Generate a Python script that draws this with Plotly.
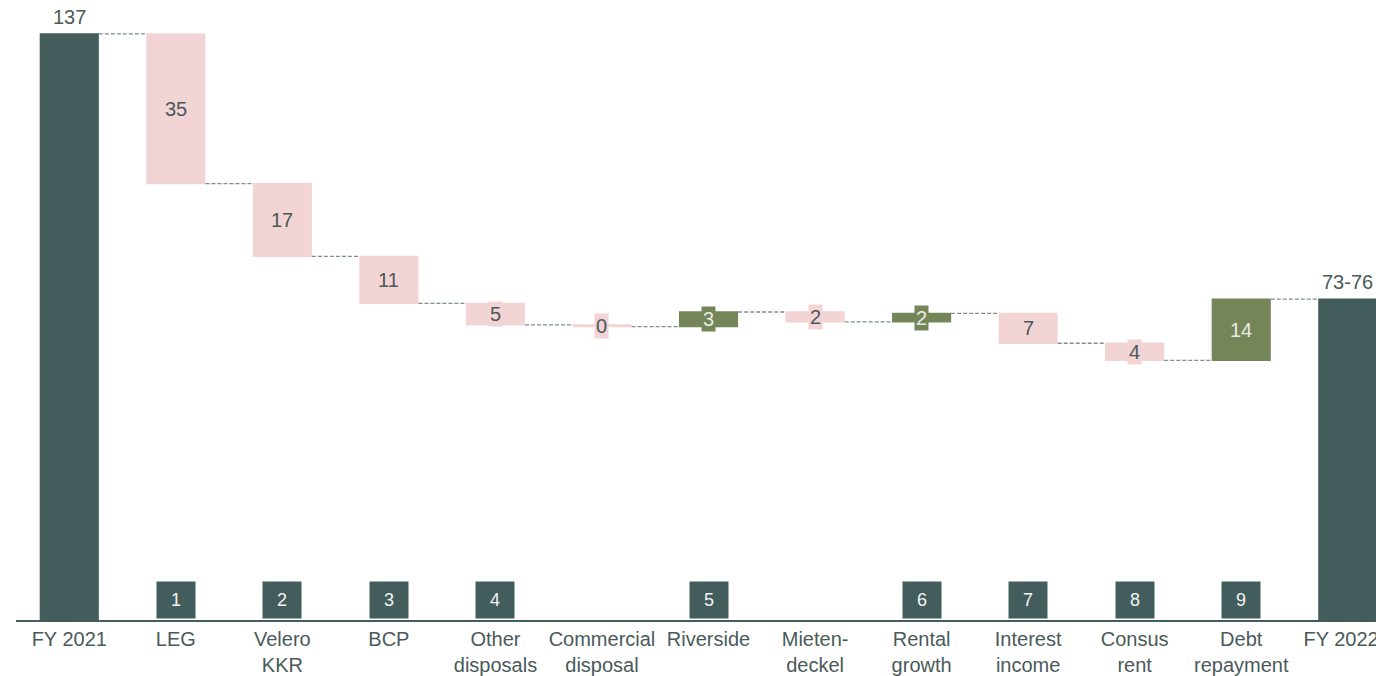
import plotly.graph_objects as go

categories = ["FY 2021", "LEG", "Velero<br>KKR", "BCP", "Other<br>disposals", "Commercial<br>disposal",
              "Riverside", "Mieten-<br>deckel", "Rental<br>growth", "Interest<br>income", "Consus<br>rent",
              "Debt<br>repayment", "FY 2022E"]
values = [137, -35, -17, -11, -5, -0.4, 3.4, -2.3, 2.0, -7, -4, 14.3, 0]
measures = ["absolute"] + ["relative"] * 11 + ["total"]
labels = ["137", "35", "17", "11", "5", "0", "3", "2", "2", "7", "4", "14", "73-76"]
badges = ["", "1", "2", "3", "4", "", "5", "", "6", "7", "8", "9", ""]

TEAL = "#435D5D"
PINK = "#F2D4D5"
GREEN = "#748657"
TXT = "#4A5A5A"
FONT = "Liberation Sans, Arial, sans-serif"

fig = go.Figure(go.Waterfall(
    x=categories, y=values, measure=measures,
    increasing=dict(marker=dict(color=GREEN)),
    decreasing=dict(marker=dict(color=PINK)),
    totals=dict(marker=dict(color=TEAL)),
    connector=dict(mode="between", line=dict(color="#7F8F8F", width=1.3, dash="4px,2px")),
    hoverinfo="skip",
))

# running levels for label positions
level = 0
ann = []
for i, (c, v, m, lab) in enumerate(zip(categories, values, measures, labels)):
    if m == "absolute":
        start, end = 0, v
        level = v
    elif m == "total":
        start, end = 0, level
    else:
        start, end = level, level + v
        level = end
    if m in ("absolute", "total"):
        ann.append(dict(x=c, y=end, text=lab, showarrow=False, yanchor="bottom", yshift=4,
                        font=dict(size=20, color=TXT, family=FONT)))
    else:
        col = GREEN if v > 0 else PINK
        tcol = "#E8ECE6" if v > 0 else TXT
        ann.append(dict(x=c, y=(start + end) / 2, text=lab, showarrow=False,
                        bgcolor=col, borderpad=1,
                        font=dict(size=20, color=tcol, family=FONT)))
    if badges[i]:
        ann.append(dict(x=c, y=0, text=badges[i], showarrow=False, yanchor="bottom", yshift=1,
                        width=38, height=36, bgcolor=TEAL, borderpad=0,
                        font=dict(size=18, color="#F4F4F4", family=FONT)))

fig.update_layout(
    width=1384, height=676,
    margin=dict(l=8, r=8, t=2, b=64),
    paper_bgcolor="white", plot_bgcolor="white",
    showlegend=False, waterfallgap=0.445,
    annotations=ann,
    font=dict(family=FONT, color=TXT, size=20),
    xaxis=dict(type="category", range=[-0.5, 12.34], showline=True, linecolor=TEAL, linewidth=2,
               showgrid=False, ticks="", automargin=False,
               tickfont=dict(size=20, color=TXT, family=FONT)),
    yaxis=dict(range=[0, 142.6], visible=False, showgrid=False, zeroline=False, automargin=False),
)

fig.write_html("out.html")
